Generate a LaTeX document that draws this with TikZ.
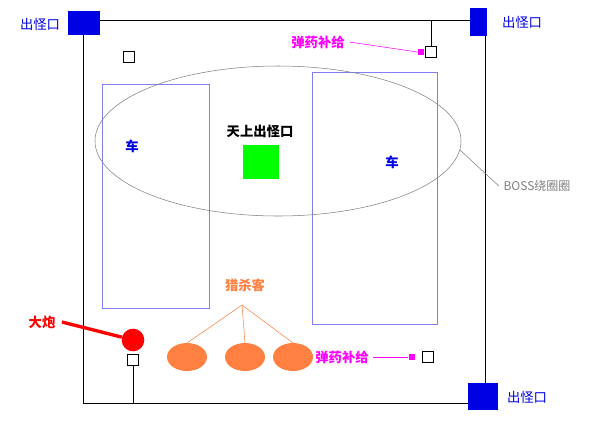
\documentclass[tikz,border=0pt]{standalone}
\usepackage{fontspec}
\newfontfamily\cjk{Noto Sans CJK SC}
\definecolor{guaiBlue}{rgb}{0,0,0.9}
\definecolor{cheLine}{rgb}{0.5,0.5,0.95}
\definecolor{lieOrange}{rgb}{1,0.5,0.25}
\definecolor{bujiPink}{rgb}{1,0,1}
\tikzset{
	kou/.style={fill=guaiBlue,draw=none},
	kouText/.style={text=guaiBlue,font=\cjk\normalsize},
	buji/.style={text=bujiPink,font=\cjk\normalsize\bfseries},
	xiaoKuang/.style={draw,fill=white,minimum size=8pt,inner sep=0pt}
}
\begin{document}
\begin{tikzpicture}[x=0.75pt,y=-0.75pt]
	\useasboundingbox (0,0) rectangle (600,433);
	% 场地
	\draw (83,20) rectangle (485,403);
	% 出怪口
	\fill[kou] (68,11) rectangle (100,35);
	\fill[kou] (470,8) rectangle (487,36);
	\fill[kou] (468,383) rectangle (498,410);
	\node[kouText] (kouA) at (40,24) {出怪口};
	\node[kouText] (kouB) at (522,22) {出怪口};
	\node[kouText] (kouC) at (527,397) {出怪口};
	% 车
	\draw[cheLine] (102,84) rectangle (209,308);
	\draw[cheLine] (312,72) rectangle (437,324);
	\node[text=guaiBlue,font=\cjk\normalsize\bfseries] (cheA) at (132,146) {车};
	\node[text=guaiBlue,font=\cjk\normalsize\bfseries] (cheB) at (392,162) {车};
	% BOSS
	\draw[gray] (278,141) ellipse (183 and 75);
	\node[text=gray,font=\cjk\small] (boss) at (537,186) {BOSS绕圈圈};
	\draw[gray] (460,150) -- (boss.west);
	\node[font=\cjk\normalsize\bfseries] (tian) at (260,131) {天上出怪口};
	\fill[green] (243,145) rectangle (279,179);
	% 弹药补给
	\node[xiaoKuang] (kuangA) at (129,57) {};
	\node[xiaoKuang] (kuangB) at (431,52) {};
	\draw (kuangB.north) -- (431,20);
	\node[buji] (bujiA) at (318,42) {弹药补给};
	\node[fill=bujiPink,minimum size=5pt,inner sep=0pt] (magA) at (421,52) {};
	\draw[bujiPink] (bujiA.east) -- (magA.west);
	\node[xiaoKuang] (kuangC) at (428,357) {};
	\node[fill=bujiPink,minimum size=5pt,inner sep=0pt] (magB) at (412,357) {};
	\node[buji] (bujiB) at (342,357) {弹药补给};
	\draw[bujiPink] (bujiB.east) -- (magB.west);
	% 大炮
	\node[circle,fill=red,minimum size=17pt,inner sep=0pt] (pao) at (133,340) {};
	\node[text=red,font=\cjk\normalsize\bfseries] (daPao) at (42,322) {大炮};
	\draw[red,line width=2.5pt] (62,322) -- (pao);
	\node[xiaoKuang] (kuangD) at (133,360) {};
	\draw (kuangD.south) -- (133,403);
	% 猎杀客
	\node[text=lieOrange,font=\cjk\normalsize\bfseries] (lie) at (245,285) {猎杀客};
	\coordinate (lieDian) at (242,305);
	\foreach \x/\n in {187/A,245/B,293/C}{
		\fill[lieOrange] (\x,357) ellipse (20 and 14);
		\coordinate (ke\n) at (\x,343);
		\draw[lieOrange] (lieDian) -- (ke\n);
	}
\end{tikzpicture}
\end{document}
